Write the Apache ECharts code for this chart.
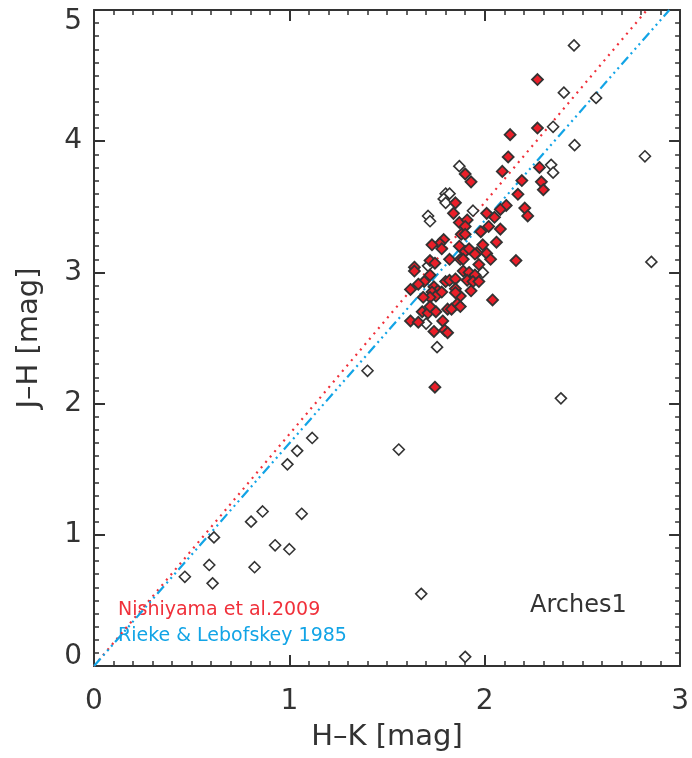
<!DOCTYPE html>
<html>
<head>
<meta charset="utf-8">
<script src="https://cdn.jsdelivr.net/npm/echarts@6/dist/echarts.min.js"></script>
<style>html,body{margin:0;padding:0;background:#fff}#c{width:692px;height:758px}</style>
</head>
<body>
<div id="c"></div>
<script>
// Open diamonds (all stars)
var openPoints = [
  [1.90,0.07],[1.675,0.55],[0.465,0.68],[0.59,0.77],[0.607,0.63],[0.614,0.98],[0.822,0.753],[0.804,1.10],
  [0.863,1.178],[0.927,0.92],[1.00,0.89],[1.063,1.16],[0.99,1.537],[1.04,1.64],[1.117,1.738],[1.40,2.25],
  [1.56,1.65],[2.39,2.04],[1.756,2.43],[2.82,3.885],[2.853,3.08],[2.457,4.73],[2.405,4.37],[2.57,4.33],
  [2.35,4.11],[2.46,3.97],[2.34,3.82],[2.35,3.76],[1.87,3.81],[1.80,3.60],[1.82,3.60],[1.79,3.56],
  [1.80,3.53],[1.94,3.47],[1.71,3.43],[1.72,3.39],[1.71,3.05],[1.99,3.00],[1.70,2.61]
];
// Filled red diamonds (selected members)
var redPoints = [
  [2.27,4.47],[2.27,4.10],[2.28,3.80],[2.29,3.69],[2.30,3.63],
  [2.13,4.05],[2.12,3.88],[2.09,3.77],[2.19,3.70],[2.17,3.595],[2.205,3.49],[2.22,3.43],[2.11,3.51],
  [2.08,3.48],[2.01,3.45],[2.05,3.42],[2.02,3.35],[1.98,3.31],[2.08,3.33],[2.06,3.23],[1.99,3.21],
  [1.96,3.15],[2.01,3.145],[2.03,3.10],[2.16,3.09],[1.97,3.06],[2.04,2.79],
  [1.90,3.75],[1.93,3.69],[1.85,3.53],[1.84,3.45],[1.87,3.38],[1.91,3.40],[1.90,3.35],[1.88,3.29],
  [1.90,3.29],[1.79,3.25],[1.77,3.22],[1.78,3.18],[1.73,3.21],[1.87,3.20],[1.90,3.16],[1.92,3.18],
  [1.95,3.14],[1.64,3.04],[1.72,3.09],[1.745,3.07],[1.82,3.10],[1.875,3.10],[1.89,3.10],
  [1.64,3.01],[1.72,2.98],[1.69,2.93],[1.66,2.91],[1.62,2.87],[1.74,2.89],[1.76,2.86],[1.73,2.85],
  [1.75,2.82],[1.72,2.81],[1.78,2.85],[1.685,2.81],[1.80,2.93],[1.82,2.94],[1.85,2.95],[1.89,3.01],
  [1.92,3.00],[1.95,2.98],[1.91,2.94],[1.94,2.93],[1.97,2.93],[1.85,2.875],[1.875,2.82],[1.85,2.845],
  [1.93,2.86],[1.68,2.70],[1.71,2.69],[1.75,2.70],[1.72,2.74],[1.81,2.72],[1.83,2.72],[1.86,2.76],
  [1.875,2.74],[1.62,2.63],[1.66,2.62],[1.785,2.63],[1.74,2.55],[1.795,2.56],[1.81,2.54],[1.745,2.125]
];
// Reddening vectors
var nishiyamaLine = [[0,0],[2.83,5]];
var riekeLine = [[0,0],[2.945,5]];
var xTicks = [0,1,2,3];
var yTicks = [0,1,2,3,4,5];

var axColor = '#333';
var font = 'DejaVu Sans';
function xAx(pos, showLabel, name){
  return {
    type:'value', position:pos, min:xTicks[0], max:xTicks[xTicks.length-1], interval:1,
    name: name||'', nameLocation:'middle', nameGap:57,
    nameTextStyle:{fontFamily:font,fontSize:29,color:axColor},
    axisLine:{show:true,onZero:false,lineStyle:{color:axColor,width:2}},
    axisTick:{show:true,inside:true,length:11,lineStyle:{color:axColor,width:2}},
    minorTick:{show:true,splitNumber:10,length:5,lineStyle:{color:axColor,width:1.5}},
    axisLabel:{show:showLabel,margin:22,fontFamily:font,fontSize:28,color:axColor},
    splitLine:{show:false}
  };
}
function yAx(pos, showLabel, name){
  return {
    type:'value', position:pos, min:yTicks[0], max:yTicks[yTicks.length-1], interval:1,
    name: name||'', nameLocation:'middle', nameGap:50,
    nameTextStyle:{fontFamily:font,fontSize:29,color:axColor},
    axisLine:{show:true,onZero:false,lineStyle:{color:axColor,width:2}},
    axisTick:{show:true,inside:true,length:11,lineStyle:{color:axColor,width:2}},
    minorTick:{show:true,splitNumber:10,length:5,lineStyle:{color:axColor,width:1.5}},
    axisLabel:{show:showLabel,margin:12,fontFamily:font,fontSize:28,color:axColor,
      formatter:function(v){
        if (v === yTicks[0]) return '{lo|' + v + '}';
        if (v === yTicks[yTicks.length-1]) return '{hi|' + v + '}';
        return String(v);
      },
      rich:{
        lo:{fontFamily:font,fontSize:28,color:axColor,padding:[0,0,18,0]},
        hi:{fontFamily:font,fontSize:28,color:axColor,padding:[24,0,0,0]}
      }
    },
    splitLine:{show:false}
  };
}

var chart = echarts.init(document.getElementById('c'));
chart.setOption({
  animation:false,
  backgroundColor:'#fff',
  grid:{left:94,right:7,top:10,bottom:92,containLabel:false},
  xAxis:[xAx('bottom',true,'H\u2013K [mag]'), xAx('top',false)],
  yAxis:[yAx('left',true,'J\u2013H [mag]'), yAx('right',false)],
  series:[
    {type:'line', data:nishiyamaLine, symbol:'none', xAxisIndex:0, yAxisIndex:0,
     lineStyle:{color:'#f0303a',width:2.2,type:[2,5]}, z:2},
    {type:'line', data:riekeLine, symbol:'none', xAxisIndex:0, yAxisIndex:0,
     lineStyle:{color:'#12a4e6',width:2.2,type:[10,4,2,4,2,4,2,4]}, z:2},
    {type:'scatter', data:openPoints, symbol:'diamond', symbolSize:11, xAxisIndex:0, yAxisIndex:0,
     itemStyle:{color:'#fff',borderColor:'#333',borderWidth:1.6,opacity:1}, z:3},
    {type:'scatter', data:redPoints, symbol:'diamond', symbolSize:11, xAxisIndex:0, yAxisIndex:0,
     itemStyle:{color:'#ea1f29',borderColor:'#333',borderWidth:1.8,opacity:1}, z:4}
  ],
  graphic:[
    {type:'text', left:118, top:601, style:{text:'Nishiyama et al.2009', fill:'#f0303a', font:'19px "DejaVu Sans"'}},
    {type:'text', left:118, top:627, style:{text:'Rieke & Lebofskey 1985', fill:'#12a4e6', font:'19px "DejaVu Sans"'}},
    {type:'text', left:530, top:594, style:{text:'Arches1', fill:'#333', font:'24px "DejaVu Sans"'}}
  ]
});
</script>
</body>
</html>
